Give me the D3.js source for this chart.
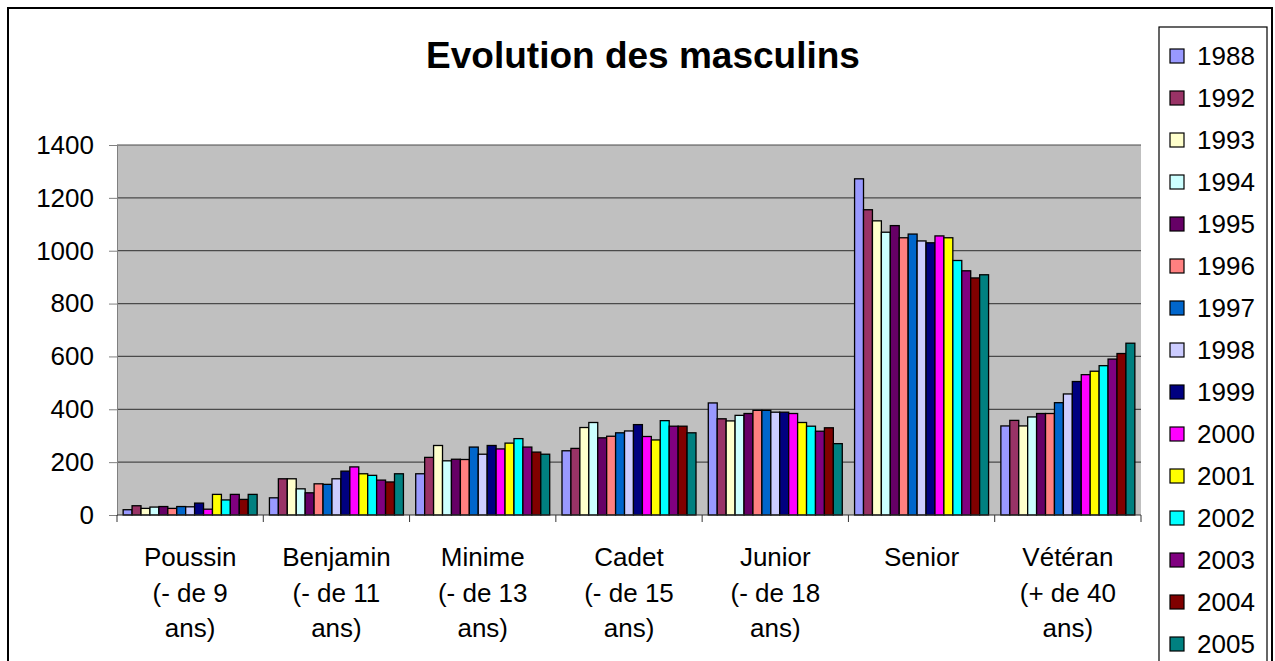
<!DOCTYPE html>
<html>
<head>
<meta charset="utf-8">
<script src="https://cdn.jsdelivr.net/npm/d3@7"></script>
<style>
    body { margin: 0; background: #fff; }
    text { font-family: "Liberation Sans", Arial, sans-serif; fill: #000; }
</style>
</head>
<body>
<svg id="viz"></svg>
<script>
var categories = [
    ["Poussin", "(- de 9", "ans)"],
    ["Benjamin", "(- de 11", "ans)"],
    ["Minime", "(- de 13", "ans)"],
    ["Cadet", "(- de 15", "ans)"],
    ["Junior", "(- de 18", "ans)"],
    ["Senior"],
    ["Vétéran", "(+ de 40", "ans)"]
];
var years = ["1988", "1992", "1993", "1994", "1995", "1996", "1997", "1998", "1999", "2000", "2001", "2002", "2003", "2004", "2005"];
var colors = ["#9999FF", "#993366", "#FFFFCC", "#CCFFFF", "#660066", "#FF8080", "#0066CC", "#CCCCFF", "#000080", "#FF00FF", "#FFFF00", "#00FFFF", "#800080", "#800000", "#008080"];

// one row per category, one value per year
var poussin  = [20, 35, 25, 30, 32, 25, 32, 31, 45, 22, 78, 57, 78, 59, 78];
var benjamin = [65, 137, 137, 99, 84, 118, 116, 137, 166, 182, 156, 150, 132, 125, 156];
var minime   = [156, 218, 263, 205, 211, 210, 257, 230, 263, 250, 272, 289, 257, 238, 230];
var cadet    = [243, 252, 331, 350, 292, 298, 311, 318, 342, 297, 284, 357, 336, 336, 311];
var junior   = [424, 364, 356, 377, 384, 396, 396, 389, 389, 384, 350, 336, 317, 330, 270];
var senior   = [1272, 1155, 1113, 1070, 1095, 1049, 1063, 1037, 1030, 1056, 1049, 963, 924, 897, 909];
var veteran  = [337, 358, 337, 371, 384, 384, 425, 458, 505, 531, 544, 565, 590, 611, 650];
var values = [poussin, benjamin, minime, cadet, junior, senior, veteran];

var yTicks = [0, 200, 400, 600, 800, 1000, 1200, 1400];

var width = 1275, height = 661;
var plot = {left: 117, right: 1141, top: 145, bottom: 515};

var svg = d3.select("#viz").attr("width", width).attr("height", height);

// outer frame
svg.append("rect")
    .attr("x", 8).attr("y", 8)
    .attr("width", 1264).attr("height", 670)
    .attr("fill", "none").attr("stroke", "#000").attr("stroke-width", 2);

svg.append("text")
    .attr("x", 643).attr("y", 68)
    .attr("text-anchor", "middle")
    .style("font-size", "37px").style("font-weight", "bold")
    .text("Evolution des masculins");

var x0 = d3.scaleBand()
    .domain(d3.range(categories.length))
    .range([plot.left, plot.right])
    .paddingInner(0.084).paddingOuter(0.042);

var x1 = d3.scaleBand()
    .domain(years)
    .range([0, x0.bandwidth()]);

var y = d3.scaleLinear().domain([0, 1400]).range([plot.bottom, plot.top]);

svg.append("rect")
    .attr("x", plot.left).attr("y", plot.top)
    .attr("width", plot.right - plot.left).attr("height", plot.bottom - plot.top)
    .attr("fill", "#C0C0C0");

// gridlines
svg.append("g")
    .selectAll("line")
    .data(yTicks.slice(1))
    .enter()
    .append("line")
    .attr("x1", plot.left).attr("x2", plot.right)
    .attr("y1", function(d) { return y(d); })
    .attr("y2", function(d) { return y(d); })
    .attr("stroke", "#4a4a4a").attr("stroke-width", 1.2);

// bars
var groups = svg.append("g").selectAll("g")
    .data(values)
    .enter()
    .append("g")
    .attr("transform", function(d, i) { return "translate(" + x0(i) + ",0)"; });

groups.selectAll("rect")
    .data(function(d) { return d.map(function(v, j) { return {year: years[j], value: v, color: colors[j]}; }); })
    .enter()
    .append("rect")
    .attr("x", function(d) { return x1(d.year); })
    .attr("width", x1.bandwidth())
    .attr("y", function(d) { return y(d.value); })
    .attr("height", function(d) { return y(0) - y(d.value); })
    .attr("fill", function(d) { return d.color; })
    .attr("stroke", "#000").attr("stroke-width", 1.3);

// y axis
var yAxis = svg.append("g")
    .attr("transform", "translate(" + plot.left + ",0)")
    .call(d3.axisLeft(y).tickValues(yTicks).tickFormat(d3.format("d")).tickSize(8).tickPadding(15));
yAxis.selectAll("line, path").attr("stroke", "#808080");
yAxis.selectAll("text").style("font-size", "26px").attr("font-family", null);

// x axis with tick marks between the categories
var step = x0.step();
var xAxis = svg.append("g");
xAxis.append("line")
    .attr("x1", plot.left).attr("x2", plot.right)
    .attr("y1", plot.bottom).attr("y2", plot.bottom)
    .attr("stroke", "#333").attr("stroke-width", 1.2);
xAxis.selectAll(".tk")
    .data(d3.range(categories.length + 1))
    .enter()
    .append("line")
    .attr("x1", function(i) { return plot.left + i * step; })
    .attr("x2", function(i) { return plot.left + i * step; })
    .attr("y1", plot.bottom).attr("y2", plot.bottom + 7)
    .attr("stroke", "#333");

var catLabel = xAxis.selectAll(".cat")
    .data(categories)
    .enter()
    .append("text")
    .attr("text-anchor", "middle")
    .style("font-size", "26px")
    .attr("transform", function(d, i) { return "translate(" + (x0(i) + x0.bandwidth() / 2) + ",566)"; });

catLabel.selectAll("tspan")
    .data(function(d) { return d; })
    .enter()
    .append("tspan")
    .attr("x", 0)
    .attr("y", function(d, i) { return i * 35.5; })
    .text(function(d) { return d; });

// legend
var legend = svg.append("g");
legend.append("rect")
    .attr("x", 1159).attr("y", 27)
    .attr("width", 108).attr("height", 660)
    .attr("fill", "#fff").attr("stroke", "#000").attr("stroke-width", 1.2);

var item = legend.selectAll(".item")
    .data(years)
    .enter()
    .append("g")
    .attr("transform", function(d, i) { return "translate(1170," + (56 + i * 42) + ")"; });

item.append("rect")
    .attr("x", 0).attr("y", -7)
    .attr("width", 14).attr("height", 14)
    .attr("fill", function(d, i) { return colors[i]; })
    .attr("stroke", "#000").attr("stroke-width", 1.2);

item.append("text")
    .attr("x", 27).attr("y", 9)
    .style("font-size", "26px")
    .text(function(d) { return d; });
</script>
</body>
</html>
